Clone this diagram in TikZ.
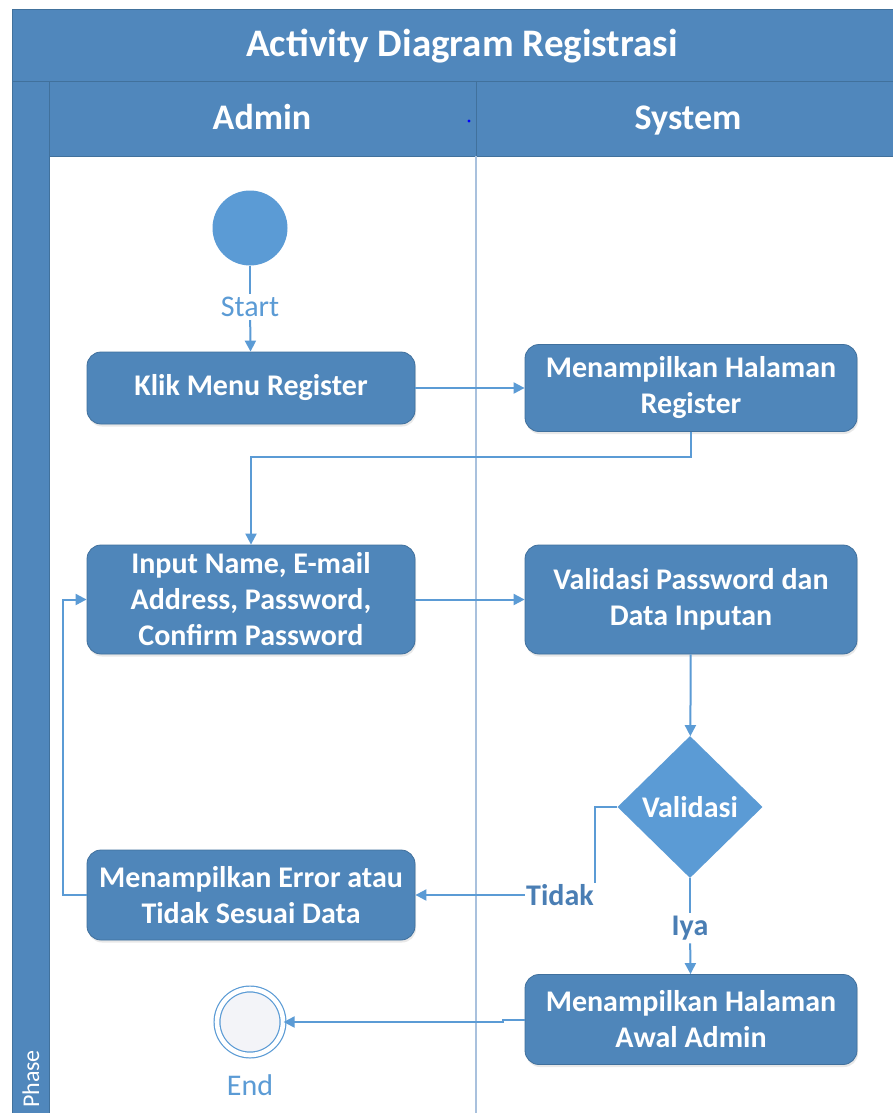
\documentclass[tikz,border=0pt]{standalone}
\usepackage{fontspec}
\setmainfont{Carlito}
\usetikzlibrary{arrows.meta,shapes.geometric,shadows}

\definecolor{bandfill}{HTML}{5087BC}
\definecolor{bandline}{HTML}{41719C}
\definecolor{boxfill}{HTML}{4F86BA}
\definecolor{boxline}{HTML}{40709D}
\definecolor{lightblue}{HTML}{5B9BD5}
\definecolor{labelblue}{HTML}{4A7EB4}
\definecolor{divider}{HTML}{A9C1DD}
\definecolor{endfill}{HTML}{F3F4F8}

\tikzset{
  activity/.style={rectangle, rounded corners=14pt, fill=boxfill, draw=boxline,
    line width=0.8pt, text=white, align=center, inner sep=2pt,
    font=\fontsize{30}{36}\selectfont\bfseries,
    drop shadow={opacity=0.18, shadow xshift=1pt, shadow yshift=-2.5pt}},
  decision/.style={diamond, fill=lightblue, draw=none, inner sep=0pt,
    minimum width=145pt, minimum height=142pt, text=white,
    font=\fontsize{30}{36}\selectfont\bfseries},
  startnode/.style={circle, fill=lightblue, draw=none, minimum size=75pt, inner sep=0pt},
  endnode/.style={circle, draw=lightblue, double=white, double distance=4.6pt,
    line width=1.2pt, fill=endfill, minimum size=66pt, inner sep=0pt},
  termlabel/.style={text=lightblue, inner sep=3pt, font=\fontsize{30}{36}\selectfont},
  guardlabel/.style={text=labelblue, inner sep=1.5pt, font=\fontsize{30}{36}\selectfont\bfseries},
  conn/.style={draw=lightblue, line width=2pt},
  arr/.style={conn, -{Triangle[length=11pt,width=11pt]}},
  lanetitle/.style={text=white, anchor=base, font=\fontsize{36}{42}\selectfont\bfseries},
}

\begin{document}
\begin{tikzpicture}[x=1pt,y=-1pt]
\useasboundingbox (0,0) rectangle (893,1113);
\begin{scope}
\clip (0,0) rectangle (893,1113);

% swimlane frame: title band, phase strip, lane headers, lane divider
\fill[white] (0,0) rectangle (893,1113);
\fill[bandfill] (12,9) rectangle (905,81);
\fill[bandfill] (12,81) rectangle (49,1120);
\fill[bandfill] (49,81) rectangle (905,156);
\draw[bandline, line width=0.8pt] (12,9) rectangle (905,81);
\draw[bandline, line width=0.8pt] (12,81) rectangle (49,1120);
\draw[bandline, line width=0.8pt] (49,156) -- (905,156);
\draw[bandline, line width=1pt] (476,81) -- (476,156);
\draw[divider, line width=2pt] (476,156) -- (476,1120);
\fill[blue] (469,121) circle (1.6);

\node[lanetitle, font=\fontsize{39}{46}\selectfont\bfseries] (title) at (462,57) {Activity Diagram Registrasi};
\node[lanetitle] (admin) at (262,130) {Admin};
\node[lanetitle] (system) at (688,130) {System};
\node[text=white, rotate=90, font=\fontsize{24}{28}\selectfont] (phase) at (31,1079) {Phase};

% activity nodes
\node[startnode] (start) at (250,228) {};
\node[termlabel] (startlbl) at (250,307) {Start};
\node[activity, minimum width=328pt, minimum height=72pt] (klik) at (251,388) {Klik Menu Register};
\node[activity, minimum width=332pt, minimum height=87pt] (regpage) at (691,388) {Menampilkan Halaman\\Register};
\node[activity, minimum width=328pt, minimum height=109pt] (input) at (251,599.5) {Input Name, E-mail\\Address, Password,\\Confirm Password};
\node[activity, minimum width=332pt, minimum height=109pt] (valpw) at (691,599.5) {Validasi Password dan\\Data Inputan};
\node[decision] (val) at (690,807) {Validasi};
\node[guardlabel] (tidak) at (560,895) {Tidak};
\node[guardlabel, inner sep=3pt] (iya) at (690,928) {Iya};
\node[activity, minimum width=328pt, minimum height=90pt] (err) at (251,895) {Menampilkan Error atau\\Tidak Sesuai Data};
\node[activity, minimum width=332pt, minimum height=90pt] (awal) at (691,1019.5) {Menampilkan Halaman\\Awal Admin};
\node[endnode] (endc) at (250,1022) {};
\node[termlabel] (endlbl) at (250,1085) {End};

% control flow
\draw[conn] (start) -- (startlbl);
\draw[arr] (startlbl) -- (klik);
\draw[arr] (klik) -- (regpage);
\draw[arr] (regpage.south) -- ++(0,25) -| (input.north);
\draw[arr] (input) -- (valpw);
\draw[arr] (valpw) -- (val);
\draw[conn] (val.west) -| (tidak.north east);
\draw[arr] (tidak.west) -- (err.east);
\draw[arr] (err.west) -- ++(-24,0) |- (input.west);
\draw[conn] (val.south) -- (iya);
\draw[arr] (iya) -- (awal);
\draw[arr] (awal.west) -- ++(-22,0) |- (endc.east);
\end{scope}
\end{tikzpicture}
\end{document}
